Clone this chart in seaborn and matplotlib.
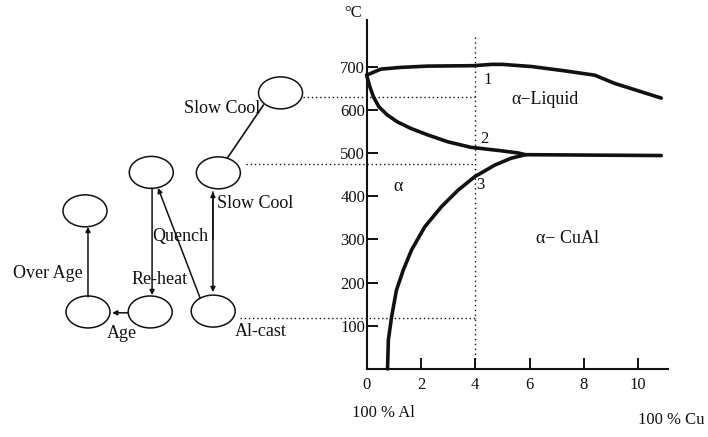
import seaborn as sns
import matplotlib.pyplot as plt
import pandas as pd
from matplotlib.patches import Ellipse

# phase boundaries (wt% Cu vs temperature)
liquidus_cu = [0, 0.52, 1.25, 2.24, 3.95, 4.6, 5.0, 6.07, 7.3, 8.4, 9.13, 9.99, 10.85]
liquidus_t = [680, 694, 698, 701, 702, 705, 705, 700, 690, 680, 661, 644, 627]

solidus_cu = [0, 0.12, 0.25, 0.45, 0.76, 1.13, 1.62, 2.24, 2.98, 3.84, 4.96, 5.58, 5.85, 10.85]
solidus_t = [680, 653, 630, 607, 588, 572, 557, 542, 526, 513, 505, 500, 496, 494]

solvus_cu = [0.77, 0.80, 0.92, 1.10, 1.35, 1.65, 2.14, 2.76, 3.37, 3.98, 4.72, 5.33, 5.85]
solvus_t = [0, 67, 121, 183, 229, 275, 329, 376, 414, 445, 472, 488, 496]

x_ticks = [0, 2, 4, 6, 8, 10]
y_ticks = [100, 200, 300, 400, 500, 600, 700]

alloy_cu = 4
# process temperatures marked with dotted lines
step_temps = [630, 475, 118]
step_start = [-2.36, -4.46, -4.65]

# heat treatment flow chart nodes (x in axis units, temperature)
node_names = ["liquid", "solution", "quenched", "overaged", "aged", "reheated", "cast"]
node_x = [-3.17, -5.46, -7.93, -10.37, -10.26, -7.97, -5.65]
node_t = [639, 454, 455, 366, 132, 132, 134]

sns.set_theme(style="white")
plt.rcParams['font.family'] = ['Liberation Serif', 'DejaVu Serif']

fig = plt.figure(figsize=(7.08, 4.37), dpi=100)
ax = fig.add_axes([0, 0, 1, 1])
ax.set_xlim(-13.5, 12.57)
ax.set_ylim(-157.4, 854)

ink = "#111111"
curves = [(liquidus_cu, liquidus_t), (solidus_cu, solidus_t), (solvus_cu, solvus_t)]
for cu, t in curves:
    sns.lineplot(data=pd.DataFrame({"cu": cu, "t": t}), x="cu", y="t", ax=ax,
                 sort=False, color=ink, lw=2.6, estimator=None,
                 solid_joinstyle="round", solid_capstyle="round")

# dotted guide lines
for t, x0 in zip(step_temps, step_start):
    ax.plot([x0, alloy_cu], [t, t], color=ink, lw=1, ls=(0, (1, 2)))
ax.plot([alloy_cu, alloy_cu], [0, 773], color=ink, lw=1, ls=(0, (1, 2.5)))

# axes
for s in ["top", "right"]:
    ax.spines[s].set_visible(False)
ax.spines["left"].set_position(("data", 0))
ax.spines["bottom"].set_position(("data", 0))
ax.spines["left"].set_bounds(0, 808)
ax.spines["bottom"].set_bounds(0, 11.1)
for s in ["left", "bottom"]:
    ax.spines[s].set_color(ink)
    ax.spines[s].set_linewidth(1.5)
ax.set_xticks(x_ticks)
ax.set_yticks(y_ticks)
ax.tick_params(axis="both", direction="in", length=8, width=1.4, color=ink,
               labelsize=12, labelcolor=ink, left=True, bottom=True)
ax.tick_params(axis="y", pad=1)
ax.tick_params(axis="x", pad=6)
ax.set_xlabel("")
ax.set_ylabel("")
ax.text(-0.48, 824, "°C", fontsize=12, ha="center", va="center", color=ink)

# region labels
ax.text(4.45, 669, "1", fontsize=12, ha="center", va="center", color=ink)
ax.text(4.35, 532, "2", fontsize=12, ha="center", va="center", color=ink)
ax.text(4.2, 426, "3", fontsize=12, ha="center", va="center", color=ink)
ax.text(6.55, 623, "α−Liquid", fontsize=13, ha="center", va="center", color=ink)
ax.text(1.16, 422, "α", fontsize=13, ha="center", va="center", color=ink)
ax.text(7.4, 303, "α− CuAl", fontsize=13, ha="center", va="center", color=ink)
ax.text(0.63, -102, "100 % Al", fontsize=12, ha="center", va="center", color=ink)
ax.text(11.2, -118, "100 % Cu", fontsize=12, ha="center", va="center", color=ink)

# flow chart
for x, t in zip(node_x, node_t):
    ax.add_patch(Ellipse((x, t), 1.62, 74, fill=False, ec=ink, lw=1.1))

ax.plot([-3.80, -5.13], [611, 488], color=ink, lw=1.2)
arrow = dict(arrowstyle="-|>", color=ink, lw=1.1, mutation_scale=7, shrinkA=0, shrinkB=0)
ax.annotate("", xy=(-5.66, 178), xytext=(-5.66, 410), arrowprops=arrow)
ax.annotate("", xy=(-5.66, 410), xytext=(-5.66, 300), arrowprops=arrow)
ax.annotate("", xy=(-7.68, 419), xytext=(-6.13, 164), arrowprops=arrow)
ax.annotate("", xy=(-7.90, 171), xytext=(-7.90, 419), arrowprops=arrow)
ax.annotate("", xy=(-9.37, 130), xytext=(-8.78, 130), arrowprops=arrow)
ax.annotate("", xy=(-10.26, 329), xytext=(-10.26, 167), arrowprops=arrow)

ax.text(-5.31, 604, "Slow Cool", fontsize=13, ha="center", va="center", color=ink)
ax.text(-5.50, 384, "Slow Cool", fontsize=13, ha="left", va="center", color=ink)
ax.text(-6.86, 306, "Quench", fontsize=13, ha="center", va="center", color=ink)
ax.text(-11.73, 222, "Over Age", fontsize=13, ha="center", va="center", color=ink)
ax.text(-7.64, 206, "Re-heat", fontsize=13, ha="center", va="center", color=ink)
ax.text(-9.0, 83, "Age", fontsize=13, ha="center", va="center", color=ink)
ax.text(-3.91, 86, "Al-cast", fontsize=13, ha="center", va="center", color=ink)

fig.savefig("out.png", dpi=100)
